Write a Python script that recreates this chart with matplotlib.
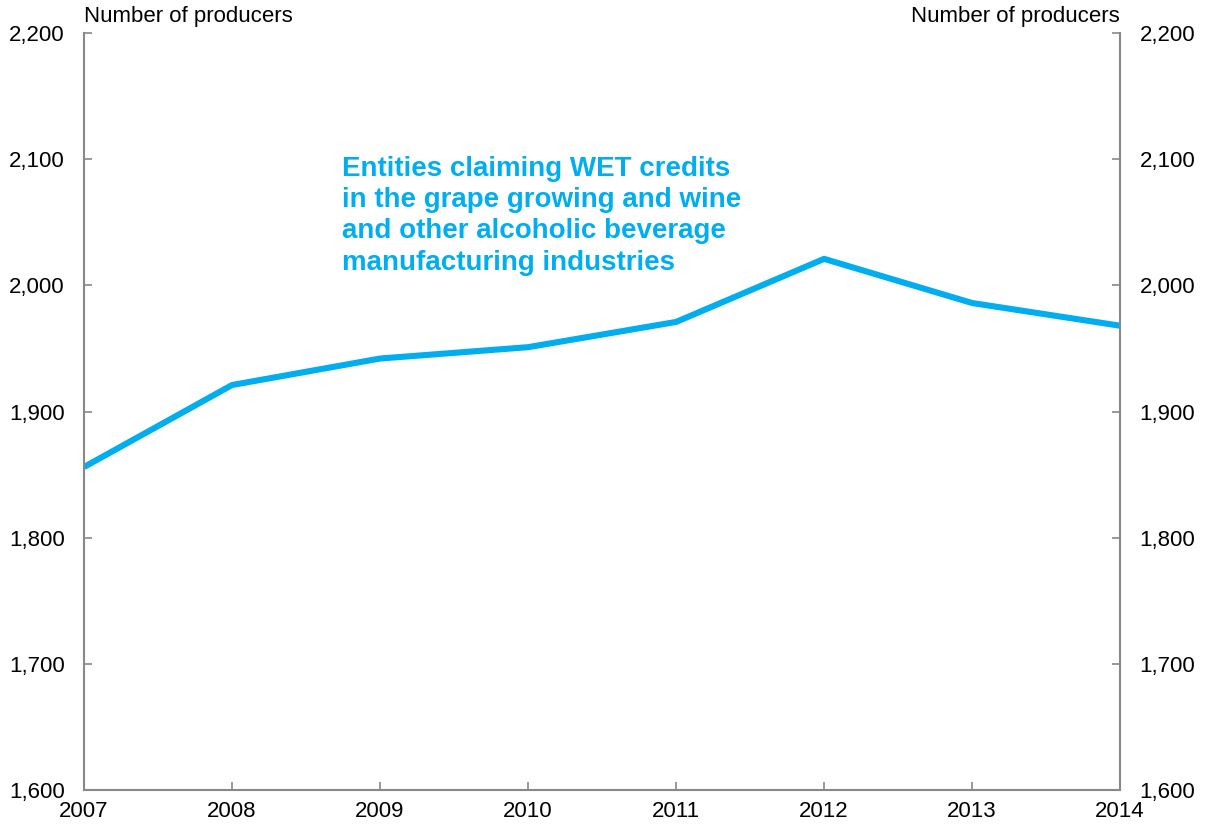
import matplotlib

matplotlib.use("Agg")
import matplotlib.pyplot as plt
from matplotlib.ticker import FuncFormatter

plt.rcParams["font.family"] = ["Liberation Sans", "DejaVu Sans"]

years = [2007, 2008, 2009, 2010, 2011, 2012, 2013, 2014]
producers = [1856, 1921, 1942, 1951, 1971, 2021, 1986, 1968]
y_ticks = [1600, 1700, 1800, 1900, 2000, 2100, 2200]
axis_label = "Number of producers"
series_label = ("Entities claiming WET credits\n"
                "in the grape growing and wine\n"
                "and other alcoholic beverage\n"
                "manufacturing industries")

LINE = "#00AEEF"
GREY = "#888888"

fig = plt.figure(figsize=(12.09, 8.30), dpi=100)
ax = fig.add_axes([0.0695, 0.0482, 0.857, 0.912])
ax.plot(years, producers, color=LINE, lw=4.4, solid_capstyle="butt")

ax.set_xlim(years[0], years[-1])
ax.set_ylim(y_ticks[0], y_ticks[-1])
ax.set_xticks(years)
ax.set_yticks(y_ticks)
ax.yaxis.set_major_formatter(FuncFormatter(lambda v, _: f"{v:,.0f}"))

ax.spines["top"].set_visible(False)
for side in ["left", "right", "bottom"]:
    ax.spines[side].set_color(GREY)
    ax.spines[side].set_linewidth(1.5)

ax.tick_params(axis="both", direction="in", length=6, width=1.2, color=GREY,
               labelsize=16, labelcolor="black")
ax.tick_params(axis="y", left=True, right=True, labelleft=True,
               labelright=True, pad=14)
ax.tick_params(axis="x", pad=8)

ax.text(0.0, 1.008, axis_label, transform=ax.transAxes, fontsize=16,
        ha="left", va="bottom")
ax.text(1.0, 1.008, axis_label, transform=ax.transAxes, fontsize=16,
        ha="right", va="bottom")
ax.text(0.249, 0.838, series_label, transform=ax.transAxes, fontsize=20,
        fontweight="bold", color=LINE, ha="left", va="top", linespacing=1.27)

fig.savefig("out.png", dpi=100)
